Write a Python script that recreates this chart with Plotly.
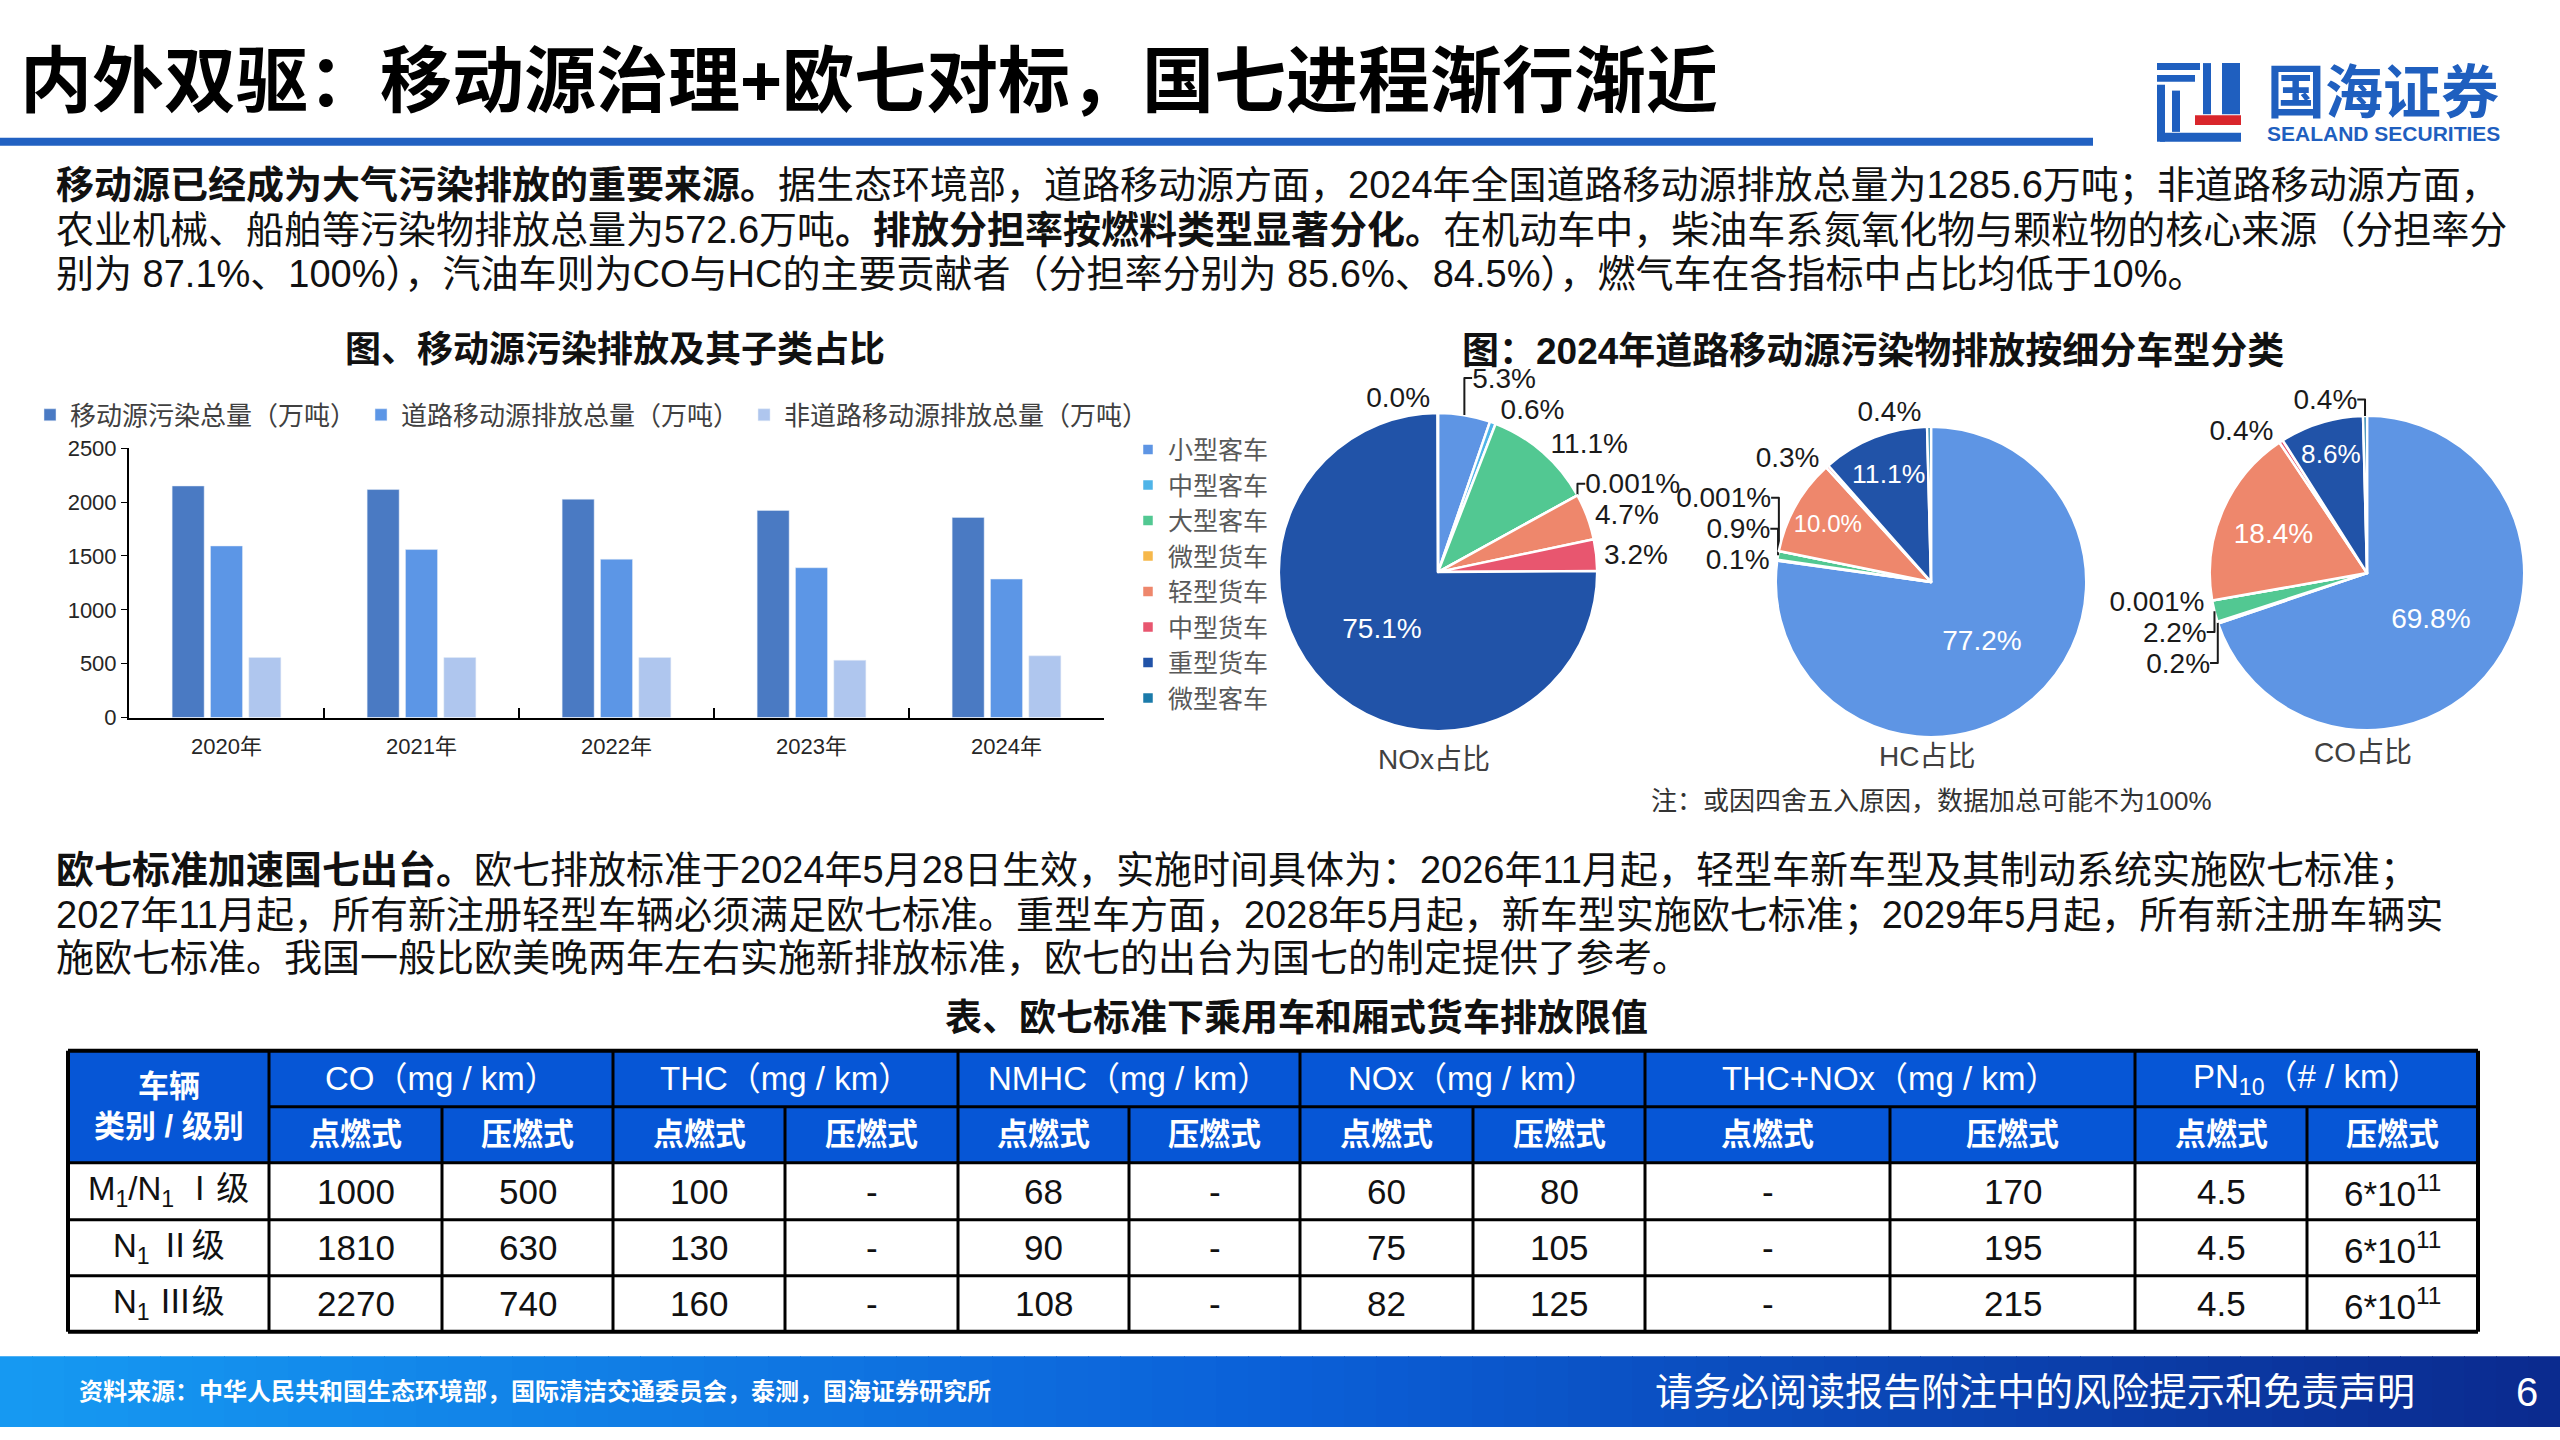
import plotly.graph_objects as go

W, H = 2560, 1440
def X(px): return px / W
def Y(py): return 1 - py / H

LAT = "Liberation Sans, Arial, Noto Sans CJK SC, sans-serif"

# ---------------- data ----------------
years = ["2020年", "2021年", "2022年", "2023年", "2024年"]
total_mobile = [2150, 2117, 2027, 1923, 1858.2]
road_mobile = [1593, 1560, 1470, 1391, 1285.6]
nonroad_mobile = [557, 557, 557, 532, 572.6]
bar_names = ["移动源污染总量（万吨）", "道路移动源排放总量（万吨）", "非道路移动源排放总量（万吨）"]

vehicle_types = ["小型客车", "中型客车", "大型客车", "微型货车", "轻型货车", "中型货车", "重型货车", "微型客车"]
nox_share = [5.3, 0.6, 11.1, 0.001, 4.7, 3.2, 75.1, 0.04]
hc_share = [77.2, 0.1, 0.9, 0.001, 10.0, 0.3, 11.1, 0.4]
co_share = [69.8, 0.2, 2.2, 0.001, 18.4, 0.4, 8.6, 0.4]
pie_titles = ["NOx占比", "HC占比", "CO占比"]

table_groups = ["CO（mg / km）", "THC（mg / km）", "NMHC（mg / km）", "NOx（mg / km）",
                "THC+NOx（mg / km）", "PN<sub>10</sub>（# / km）"]
engine_types = ["点燃式", "压燃式"]
row_labels = ["M<sub>1</sub>/N<sub>1</sub> Ⅰ级", "N<sub>1</sub> Ⅱ级", "N<sub>1</sub> Ⅲ级"]
table_values = [
    ["1000", "500", "100", "-", "68", "-", "60", "80", "-", "170", "4.5", "6*10<sup>11</sup>"],
    ["1810", "630", "130", "-", "90", "-", "75", "105", "-", "195", "4.5", "6*10<sup>11</sup>"],
    ["2270", "740", "160", "-", "108", "-", "82", "125", "-", "215", "4.5", "6*10<sup>11</sup>"],
]

# ---------------- styles / layout geometry ----------------
bar_colors = ["#4A7AC3", "#5C96E6", "#AFC6EE"]
pie_colors = ["#5E95E4", "#4FB4E8", "#52C892", "#F6B84B", "#EE876C", "#E8566F", "#2153A8", "#1B7BAA"]
pie_geo = [(1438, 570, 162), (1931, 580, 158), (2367, 571, 160)]
pie_textpos = [
    ["outside", "outside", "outside", "outside", "outside", "outside", "inside", "outside"],
    ["inside", "outside", "outside", "outside", "inside", "outside", "inside", "outside"],
    ["inside", "outside", "outside", "outside", "inside", "outside", "inside", "outside"],
]
col_edges = [68, 269, 442, 613, 785, 958, 1129, 1300, 1473, 1645, 1890, 2135, 2307, 2478]
row_edges = [1057, 1114, 1171, 1229, 1286, 1343]

def fmt(v):
    return f"{v:.3f}%" if v < 0.01 else f"{v:.1f}%"

fig = go.Figure()

# ---------------- bar chart ----------------
for name, vals, c in zip(bar_names, [total_mobile, road_mobile, nonroad_mobile], bar_colors):
    fig.add_trace(go.Bar(x=years, y=vals, name=name, marker_color=c,
                         xaxis="x", yaxis="y", legend="legend", hoverinfo="skip"))

# ---------------- pies ----------------
for i, (vals, (cx, cy, r)) in enumerate(zip([nox_share, hc_share, co_share], pie_geo)):
    fig.add_trace(go.Pie(
        labels=vehicle_types, values=vals, sort=False, direction="clockwise", rotation=0,
        text=[fmt(v) for v in vals], textinfo="text", textposition=pie_textpos[i],
        insidetextorientation="horizontal",
        insidetextfont=dict(color="white", size=28, family=LAT),
        outsidetextfont=dict(color="#1a1a1a", size=28, family=LAT),
        marker=dict(colors=pie_colors, line=dict(color="white", width=2.5)),
        domain=dict(x=[X(cx - r), X(cx + r)], y=[Y(cy + r), Y(cy - r)]),
        legend="legend2", showlegend=True, hoverinfo="skip"))

shapes = []
ann = []

def rect(x0, y0, x1, y1, color, layer="below", line=None):
    d = dict(type="rect", xref="paper", yref="paper", x0=X(x0), x1=X(x1), y0=Y(y1), y1=Y(y0),
             fillcolor=color, layer=layer, line=dict(width=0))
    if line:
        d["line"] = line
    shapes.append(d)

def hline(x0, x1, y, color="#000", w=3):
    shapes.append(dict(type="line", xref="paper", yref="paper", x0=X(x0), x1=X(x1), y0=Y(y), y1=Y(y),
                       line=dict(color=color, width=w), layer="above"))

def vline(x, y0, y1, color="#000", w=3):
    shapes.append(dict(type="line", xref="paper", yref="paper", x0=X(x), x1=X(x), y0=Y(y0), y1=Y(y1),
                       line=dict(color=color, width=w), layer="above"))

def text(x, y, s, size, color="#111", xanchor="center", yanchor="middle", family=LAT, align="center",
         height=None):
    d = dict(x=X(x), y=Y(y), xref="paper", yref="paper", text=s, showarrow=False,
             xanchor=xanchor, yanchor=yanchor, align=align,
             font=dict(size=size, color=color, family=family))
    if height:
        d["height"] = height
        d["valign"] = "middle"
    ann.append(d)

# ---------------- header ----------------
text(18, 70, "<b>内外双驱：移动源治理+欧七对标，国七进程渐行渐近</b>", 72, "#000", xanchor="left")
rect(0, 128, 2093, 136, "#2161C2")

# logo
LB, LR = "#1F5FBF", "#D9262C"
for (x0, y0, x1, y1) in [(2157, 52, 2200, 59), (2157, 64, 2195, 71), (2157, 74, 2165, 132),
                         (2172, 80, 2180, 122), (2203, 52, 2211, 104), (2222, 52, 2240, 104),
                         (2160, 123, 2241, 132)]:
    rect(x0, y0, x1, y1, LB, layer="above")
rect(2195, 105, 2241, 115, LR, layer="above")
text(2383, 82, "<b>国海证券</b>", 58, LB)
text(2383, 124, "<b>SEALAND SECURITIES</b>", 21, LB)

# ---------------- paragraph 1 ----------------
p1 = [
    "<b>移动源已经成为大气污染排放的重要来源。</b>据生态环境部，道路移动源方面，2024年全国道路移动源排放总量为1285.6万吨；非道路移动源方面，",
    "农业机械、船舶等污染物排放总量为572.6万吨<b>。排放分担率按燃料类型显著分化。</b>在机动车中，柴油车系氮氧化物与颗粒物的核心来源（分担率分",
    "别为 87.1%、100%），汽油车则为CO与HC的主要贡献者（分担率分别为 85.6%、84.5%），燃气车在各指标中占比均低于10%。",
]
for s, yy in zip(p1, [176, 222, 267]):
    text(54, yy, s, 38, "#111", xanchor="left", align="left", height=42)

# chart titles
text(615, 343, "<b>图、移动源污染排放及其子类占比</b>", 36, "#111")
text(1873, 345, "<b>图：2024年道路移动源污染物排放按细分车型分类</b>", 37, "#111")

# pie titles and note
for t, (cx, cy, r), yy in zip(pie_titles, pie_geo, [761, 758, 754]):
    text(cx - 4, yy, t, 28, "#404040")
text(1931, 803, "注：或因四舍五入原因，数据加总可能不为100%", 26, "#333")

# ---------------- paragraph 2 ----------------
p2 = [
    "<b>欧七标准加速国七出台。</b>欧七排放标准于2024年5月28日生效，实施时间具体为：2026年11月起，轻型车新车型及其制动系统实施欧七标准；",
    "2027年11月起，所有新注册轻型车辆必须满足欧七标准。重型车方面，2028年5月起，新车型实施欧七标准；2029年5月起，所有新注册车辆实",
    "施欧七标准。我国一般比欧美晚两年左右实施新排放标准，欧七的出台为国七的制定提供了参考。",
]
for s, yy in zip(p2, [873, 919, 963]):
    text(54, yy, s, 38, "#111", xanchor="left", align="left", height=42)

# ---------------- table ----------------
text(1296, 1024, "<b>表、欧七标准下乘用车和厢式货车排放限值</b>", 37, "#111")
HB = "#0656D6"
rect(col_edges[0], row_edges[0], col_edges[-1], row_edges[2], HB)
hline(col_edges[0], col_edges[-1], row_edges[0], w=4)
hline(col_edges[1], col_edges[-1], row_edges[1])
for yy in row_edges[2:-1]:
    hline(col_edges[0], col_edges[-1], yy)
hline(col_edges[0], col_edges[-1], row_edges[-1], w=4)
for j, xx in enumerate(col_edges):
    if j in (0, len(col_edges) - 1):
        vline(xx, row_edges[0], row_edges[-1], w=4)
    elif j % 2 == 1:
        vline(xx, row_edges[0], row_edges[-1])
    else:
        vline(xx, row_edges[1], row_edges[-1])
text((col_edges[0] + col_edges[1]) / 2, (row_edges[0] + row_edges[2]) / 2,
     "<b>车辆</b><br><b>类别 / 级别</b>", 31, "white")
for g, name in enumerate(table_groups):
    x0, x1 = col_edges[1 + 2 * g], col_edges[3 + 2 * g]
    text((x0 + x1) / 2, (row_edges[0] + row_edges[1]) / 2, name, 33, "white")
    for k in range(2):
        c0, c1 = col_edges[1 + 2 * g + k], col_edges[2 + 2 * g + k]
        text((c0 + c1) / 2, (row_edges[1] + row_edges[2]) / 2, "<b>" + engine_types[k] + "</b>", 31, "white")
for i, (lab, vals) in enumerate(zip(row_labels, table_values)):
    yc = (row_edges[2 + i] + row_edges[3 + i]) / 2
    text((col_edges[0] + col_edges[1]) / 2, yc, lab, 33, "#111")
    for j, v in enumerate(vals):
        text((col_edges[1 + j] + col_edges[2 + j]) / 2, yc, v, 35, "#111")

# ---------------- footer ----------------
stops = [(0.0, (22, 154, 242)), (0.5, (11, 96, 216)), (1.0, (11, 42, 142))]
def grad(t):
    for (t0, c0), (t1, c1) in zip(stops[:-1], stops[1:]):
        if t0 <= t <= t1:
            f = (t - t0) / (t1 - t0)
            return "rgb(%d,%d,%d)" % tuple(round(a + (b - a) * f) for a, b in zip(c0, c1))
    return "rgb(%d,%d,%d)" % stops[-1][1]
N = 80
for k in range(N):
    rect(W * k / N, 1368, W * (k + 1) / N + 1, 1440, grad((k + 0.5) / N))
text(77, 1404, "<b>资料来源：中华人民共和国生态环境部，国际清洁交通委员会，泰测，国海证券研究所</b>", 24, "white",
     xanchor="left", align="left")
text(2035, 1404, "请务必阅读报告附注中的风险提示和免责声明", 38, "white")
text(2527, 1404, "6", 40, "white")

fig.update_layout(
    width=W, height=H, margin=dict(l=0, r=0, t=0, b=0),
    paper_bgcolor="white", plot_bgcolor="white",
    font=dict(family=LAT, color="#262626"),
    barmode="group", bargap=0.41, bargroupgap=0.165,
    xaxis=dict(domain=[X(129), X(1104)], showline=True, linecolor="#000", linewidth=2,
               ticks="inside", tickson="boundaries", ticklen=10, tickcolor="#000", tickwidth=2,
               ticklabelstandoff=8,
               tickfont=dict(size=22, color="#262626"), showgrid=False, fixedrange=True),
    yaxis=dict(domain=[Y(718), Y(444)], range=[0, 2500], dtick=500, showline=True, linecolor="#000",
               linewidth=2, ticks="outside", ticklen=6, tickcolor="#000", showgrid=False, zeroline=False,
               tickfont=dict(size=22, color="#262626"), fixedrange=True),
    legend=dict(orientation="h", x=X(30), y=Y(410), xanchor="left", yanchor="middle",
                font=dict(size=26, color="#404040"), bgcolor="rgba(0,0,0,0)", itemwidth=30),
    legend2=dict(orientation="v", x=X(1128), y=Y(422), xanchor="left", yanchor="top",
                 font=dict(size=25, color="#595959"), bgcolor="rgba(0,0,0,0)", itemwidth=30),
    shapes=shapes, annotations=ann, showlegend=True,
)

fig.write_html("out.html")
